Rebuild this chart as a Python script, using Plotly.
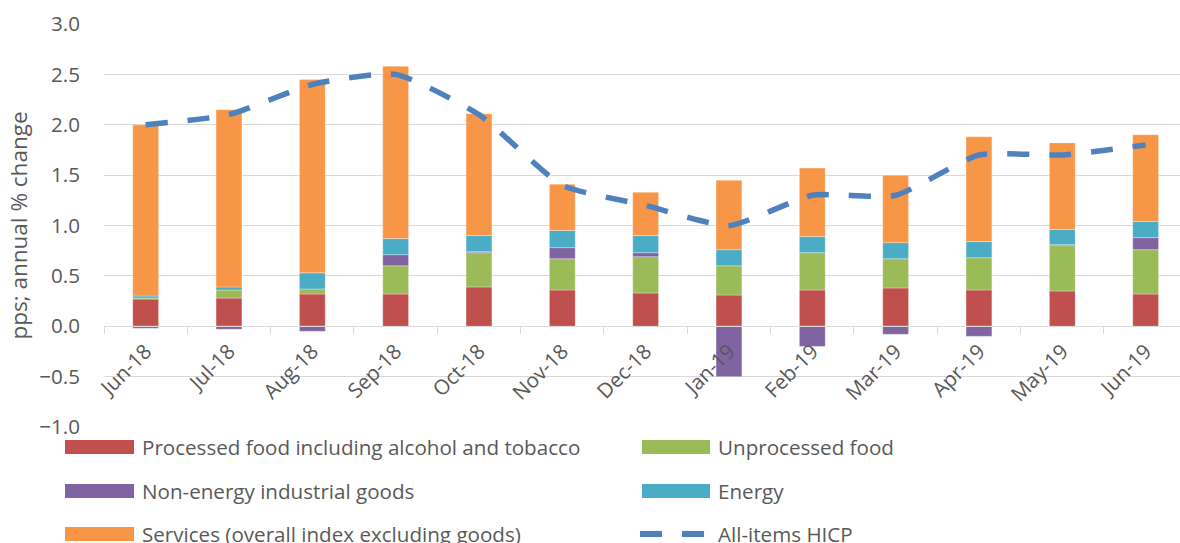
import plotly.graph_objects as go

months = ["Jun-18", "Jul-18", "Aug-18", "Sep-18", "Oct-18", "Nov-18", "Dec-18",
          "Jan-19", "Feb-19", "Mar-19", "Apr-19", "May-19", "Jun-19"]
processed_food = [0.27, 0.28, 0.32, 0.32, 0.39, 0.36, 0.33, 0.31, 0.36, 0.38, 0.36, 0.35, 0.32]
unprocessed_food = [0.01, 0.08, 0.05, 0.28, 0.34, 0.31, 0.36, 0.29, 0.37, 0.29, 0.32, 0.45, 0.44]
non_energy_goods = [-0.02, -0.03, -0.05, 0.11, 0.01, 0.11, 0.04, -0.50, -0.20, -0.08, -0.10, 0.01, 0.12]
energy = [0.02, 0.03, 0.16, 0.16, 0.16, 0.17, 0.17, 0.16, 0.16, 0.16, 0.16, 0.15, 0.16]
services = [1.70, 1.76, 1.92, 1.71, 1.21, 0.46, 0.43, 0.69, 0.68, 0.67, 1.04, 0.86, 0.86]
hicp = [2.0, 2.1, 2.4, 2.5, 2.1, 1.4, 1.2, 1.0, 1.3, 1.3, 1.7, 1.7, 1.8]

y_ticks = [-1.0, -0.5, 0.0, 0.5, 1.0, 1.5, 2.0, 2.5, 3.0]

series = [
    ("Processed food including alcohol and tobacco", processed_food, "#C0504D"),
    ("Unprocessed food", unprocessed_food, "#9BBB59"),
    ("Non-energy industrial goods", non_energy_goods, "#8064A2"),
    ("Energy", energy, "#4BACC6"),
    ("Services (overall index excluding goods)", services, "#F79646"),
]
line_name = "All-items HICP"
line_color = "#4F81BD"
text_color = "#595959"
grid_color = "#D9D9D9"
FONT = "Open Sans"
FS = 20.6

W, H = 1180, 543
L, R, T, B = 104, 0, 24, 116
pw, ph = W - L - R, H - T - B


def px_x(px):
    return (px - L) / pw


def px_y(py):
    return (H - B - py) / ph


fig = go.Figure()
for name, vals, col in series:
    fig.add_trace(go.Bar(x=months, y=vals, name=name, width=0.31,
                         marker=dict(color=col, line=dict(color="rgba(255,255,255,0.5)", width=0.6)),
                         showlegend=False))
fig.add_trace(go.Scatter(x=months, y=hicp, name=line_name, mode="lines",
                         line=dict(color=line_color, width=5.5, dash="22px,20px",
                                   shape="spline", smoothing=0.55),
                         showlegend=False))

# category spacing in px -> x range so the last category is clipped at the right edge
cat_px = 83.33
x_end = -0.5 + pw / cat_px

fig.update_layout(
    width=W, height=H,
    margin=dict(l=L, r=R, t=T, b=B, pad=0),
    paper_bgcolor="white", plot_bgcolor="white",
    barmode="relative",
    font=dict(family=FONT, size=FS, color=text_color),
    xaxis=dict(range=[-0.5, x_end], anchor="free", position=0.25,
               showgrid=False, showline=True, linecolor=grid_color, linewidth=1,
               ticks="outside", ticklen=7, tickcolor=grid_color, tickwidth=1,
               tickson="boundaries", tickangle=-45, ticklabelstandoff=4,
               tickfont=dict(family=FONT, size=FS, color=text_color)),
    yaxis=dict(range=[-1.0, 3.0], tickvals=y_ticks, tickformat=".1f",
               showgrid=True, gridcolor=grid_color, gridwidth=1, zeroline=False,
               showline=False, ticks="", ticklabelstandoff=23,
               tickfont=dict(family=FONT, size=FS, color=text_color),
               title=dict(text="pps; annual % change", standoff=5,
                          font=dict(family=FONT, size=22.5, color=text_color)),
               automargin=False),
)

# custom legend
rows = [447, 491, 534]
cols = [(65, 134, 140), (642, 710, 716)]
items = [(s[0], s[2], "bar") for s in series] + [(line_name, line_color, "line")]
for i, (name, col, kind) in enumerate(items):
    r = rows[i // 2]
    x0, x1, xt = cols[i % 2]
    if kind == "bar":
        fig.add_shape(type="rect", xref="paper", yref="paper",
                      x0=px_x(x0), x1=px_x(x1), y0=px_y(r + 7), y1=px_y(r - 7),
                      fillcolor=col, line=dict(width=0))
    else:
        for a, b in [(640, 662), (682, 704)]:
            fig.add_shape(type="line", xref="paper", yref="paper",
                          x0=px_x(a), x1=px_x(b), y0=px_y(r), y1=px_y(r),
                          line=dict(color=col, width=6))
    fig.add_annotation(text=name, xref="paper", yref="paper", x=px_x(xt), y=px_y(r),
                       xanchor="left", yanchor="middle", showarrow=False,
                       font=dict(family=FONT, size=FS, color=text_color))

fig.write_html("out.html")
